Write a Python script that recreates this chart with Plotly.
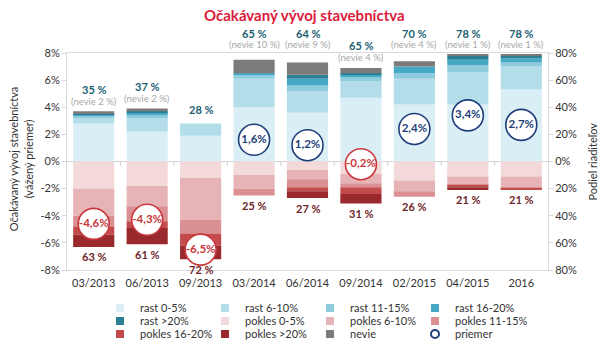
import plotly.graph_objects as go

categories = ["03/2013", "06/2013", "09/2013", "03/2014", "06/2014", "09/2014", "02/2015", "04/2015", "2016"]

rast_0_5 = [28, 22, 19, 40, 36, 47, 42, 42, 53]
rast_6_10 = [4, 10, 9, 21, 16, 12, 19, 24, 17]
rast_11_15 = [2, 2, 0, 3, 4, 3, 4, 5, 3]
rast_16_20 = [0.5, 2, 0, 1, 5, 2, 5, 4, 3]
rast_20p = [0.5, 1, 0, 0, 3, 1, 0, 3, 2]
nevie = [2, 2, 0, 10, 9, 4, 4, 1, 1]

pokles_0_5 = [20, 18, 12, 10, 6, 9, 14, 11, 11]
pokles_6_10 = [20, 15, 31, 10, 7, 7, 8, 6, 8.5]
pokles_11_15 = [8, 11, 10, 5, 6, 3, 4, 1, 0.5]
pokles_16_20 = [6, 5, 9, 0, 3, 5, 0, 1, 1]
pokles_20p = [9, 12, 10, 0, 5, 7, 0, 2, 0]

rast_total = [35, 37, 28, 65, 64, 65, 70, 78, 78]
pokles_total = [63, 61, 72, 25, 27, 31, 26, 21, 21]
priemer = [-4.6, -4.3, -6.5, 1.6, 1.2, -0.2, 2.4, 3.4, 2.7]

left_tickvals = [-8, -6, -4, -2, 0, 2, 4, 6, 8]
left_ticktext = ["-8%", "-6%", "-4%", "-2%", "0%", "2%", "4%", "6%", "8%"]
right_tickvals = [-80, -60, -40, -20, 0, 20, 40, 60, 80]
right_ticktext = ["80%", "60%", "40%", "20%", "0%", "20%", "40%", "60%", "80%"]

FONT = "Lato"
BLUE_TXT = "#1f3f7a"
RED_TXT = "#c8383c"

pos_series = [
    ("rast 0-5%", rast_0_5, "#daeef5"),
    ("rast 6-10%", rast_6_10, "#b3dde8"),
    ("rast 11-15%", rast_11_15, "#8ecbdc"),
    ("rast 16-20%", rast_16_20, "#45a9c5"),
    ("rast >20%", rast_20p, "#2b7f95"),
]
neg_series = [
    ("pokles 0-5%", pokles_0_5, "#f3d9da"),
    ("pokles 6-10%", pokles_6_10, "#e6b4b6"),
    ("pokles 11-15%", pokles_11_15, "#da9092"),
    ("pokles 16-20%", pokles_16_20, "#c44b4c"),
    ("pokles >20%", pokles_20p, "#99292c"),
]
nevie_color = "#7b7b7b"

W, H = 610, 350
ML, MR, MT, MB = 67, 62, 53, 80
PW = W - ML - MR

fig = go.Figure()

for name, vals, col in pos_series:
    fig.add_trace(go.Bar(x=categories, y=vals, name=name, marker=dict(color=col, line=dict(width=0)),
                         yaxis="y", showlegend=False, hoverinfo="skip"))
fig.add_trace(go.Bar(x=categories, y=nevie, name="nevie", marker=dict(color=nevie_color, line=dict(width=0)),
                     yaxis="y", showlegend=False, hoverinfo="skip"))
for name, vals, col in neg_series:
    fig.add_trace(go.Bar(x=categories, y=[-v for v in vals], name=name, marker=dict(color=col, line=dict(width=0)),
                         yaxis="y", showlegend=False, hoverinfo="skip"))

# average circles on left axis (overlay -> drawn on top)
circ_line = [BLUE_TXT if v >= 0 else RED_TXT for v in priemer]
circ_text = [("%.1f" % v).replace(".", ",") + "%" for v in priemer]
fig.add_trace(go.Scatter(
    x=categories, y=priemer, yaxis="y2", mode="markers+text",
    marker=dict(size=31, color="white", line=dict(color=circ_line, width=1.6)),
    text=circ_text, textposition="middle center",
    textfont=dict(family=FONT, size=11.5, color=circ_line, weight="bold"),
    showlegend=False, hoverinfo="skip", cliponaxis=False))

# legend entries: one small legend per entry, laid out in a 4-column grid
legend_items = [(n, c, "square") for n, _, c in pos_series] + \
               [(n, c, "square") for n, _, c in neg_series] + \
               [("nevie", nevie_color, "square"), ("priemer", "white", "circle")]
col_px = [100, 205, 310, 415]
row_px = [308, 321, 334]
legend_layouts = {}
for i, (n, c, sym) in enumerate(legend_items):
    r, k = divmod(i, 4)
    lg = "legend" if i == 0 else "legend%d" % (i + 1)
    mk = dict(symbol=sym, size=8, color=c)
    if sym == "circle":
        mk = dict(symbol="circle-open", size=8, color=BLUE_TXT, line=dict(width=2, color=BLUE_TXT))
    fig.add_trace(go.Scatter(x=[None], y=[None], mode="markers", name=n, marker=mk,
                             legend=lg, showlegend=True, hoverinfo="skip"))
    legend_layouts[lg] = dict(orientation="h", x=(col_px[k] - ML) / PW, xanchor="left",
                              yref="container", y=(H - row_px[r]) / H, yanchor="middle",
                              font=dict(family=FONT, size=11, color="#333333"),
                              bgcolor="rgba(0,0,0,0)", itemwidth=30)

annotations = []
PCT_FONT = dict(family=FONT, size=11, color="#225f72")
NEV_FONT = dict(family=FONT, size=9.5, color="#a8a8a8")
for i, cat in enumerate(categories):
    # category axis: use the category index so that "2016" is not read as a number
    top = rast_total[i] + nevie[i]
    has_nev = nevie[i] > 0
    if top >= 70:
        annotations.append(dict(x=i, xref="x", y=1.092, yref="paper", yanchor="middle",
                                text="<b>%d %%</b>" % rast_total[i], showarrow=False, font=PCT_FONT))
        annotations.append(dict(x=i, xref="x", y=1.041, yref="paper", yanchor="middle",
                                text="(nevie %d %%)" % nevie[i], showarrow=False, font=NEV_FONT))
    else:
        annotations.append(dict(x=i, xref="x", y=top, yref="y", yanchor="middle",
                                yshift=22 if has_nev else 14,
                                text="<b>%d %%</b>" % rast_total[i], showarrow=False, font=PCT_FONT))
        if has_nev:
            annotations.append(dict(x=i, xref="x", y=top, yref="y", yanchor="middle", yshift=10,
                                    text="(nevie %d %%)" % nevie[i], showarrow=False, font=NEV_FONT))
    annotations.append(dict(x=i, xref="x", y=-pokles_total[i], yref="y", yanchor="middle", yshift=-10,
                            text="<b>%d %%</b>" % pokles_total[i],
                            showarrow=False, font=dict(family=FONT, size=11, color="#6e2528")))

annotations.append(dict(x=0.493, xref="paper", xanchor="center", y=1.175, yref="paper", yanchor="middle",
                        text="<b>Očakávaný vývoj stavebníctva</b>", showarrow=False,
                        font=dict(family=FONT, size=15, color="#dc1b3b")))
annotations.append(dict(x=-0.096, xref="paper", xanchor="center", y=0.51, yref="paper", yanchor="middle",
                        textangle=-90,
                        text="Očakávaný vývoj stavebníctva<br>(vážený priemer)", showarrow=False,
                        font=dict(family=FONT, size=11, color="#333333")))
annotations.append(dict(x=1.0915, xref="paper", xanchor="center", y=0.5, yref="paper", yanchor="middle",
                        textangle=-90,
                        text="Podiel riaditeľov", showarrow=False,
                        font=dict(family=FONT, size=11, color="#333333")))

shapes = []
for k in range(len(categories) - 1):
    shapes.append(dict(type="line", xref="x", yref="y", x0=k + 0.5, x1=k + 0.5, y0=0, y1=-3,
                       line=dict(color="#cfcfcf", width=1)))

fig.update_layout(
    width=W, height=H,
    margin=dict(l=ML, r=MR, t=MT, b=MB, autoexpand=False),
    paper_bgcolor="white", plot_bgcolor="white",
    barmode="relative", bargap=0.23,
    font=dict(family=FONT, size=11, color="#333333"),
    xaxis=dict(type="category", range=[-0.5, 8.5], showline=True, mirror=True, linecolor="#d9d9d9",
               linewidth=1, showgrid=False, ticks="", ticklabelstandoff=3,
               tickfont=dict(family=FONT, size=11, color="#333333"),
               fixedrange=True, automargin=False),
    yaxis=dict(range=[-80, 80], side="right", tickvals=right_tickvals, ticktext=right_ticktext,
               showgrid=False, zeroline=True, zerolinecolor="#d4d4d4", zerolinewidth=1,
               showline=True, linecolor="#d9d9d9", ticks="outside", ticklen=4, tickcolor="#d9d9d9",
               tickfont=dict(family=FONT, size=11, color="#333333"), fixedrange=True, automargin=False),
    yaxis2=dict(range=[-8, 8], overlaying="y", side="left", tickvals=left_tickvals, ticktext=left_ticktext,
                showgrid=False, zeroline=False, showline=True, linecolor="#d9d9d9",
                ticks="outside", ticklen=4, tickcolor="#d9d9d9",
                tickfont=dict(family=FONT, size=11, color="#333333"), fixedrange=True, automargin=False),
    annotations=annotations,
    shapes=shapes,
    **legend_layouts,
)

fig.write_html("out.html")
